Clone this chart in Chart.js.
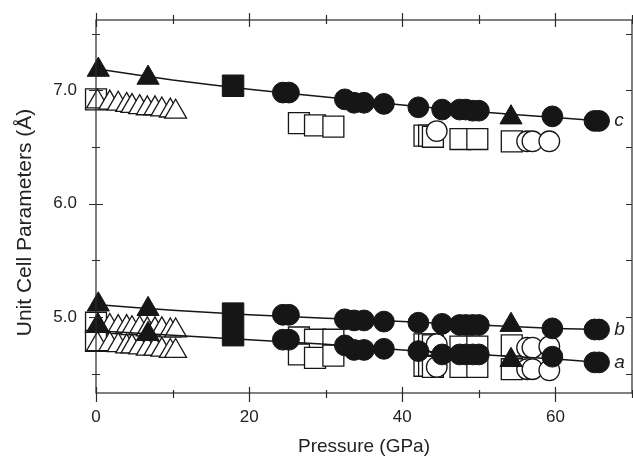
<!DOCTYPE html>
<html>
<head>
<meta charset="utf-8">
<script src="https://cdn.jsdelivr.net/npm/chart.js@4.4.0/dist/chart.umd.min.js"></script>
<style>
  html, body { margin: 0; padding: 0; background: #fff; }
</style>
</head>
<body>
<canvas id="chart" width="633" height="458"></canvas>
<script>
// Unit cell parameters a, b, c vs pressure, several data sets + fit curves.

// filled triangles
const TRI_F_P = [0.3, 6.8, 54.2];
const TRI_F_C = [7.18, 7.11, 6.76];
const TRI_F_B = [5.11, 5.07, 4.93];
const TRI_F_A = [4.92, 4.85, 4.62];

// filled squares
const SQ_F_P = [17.9];
const SQ_F_C = [7.04];
const SQ_F_B = [5.03];
const SQ_F_A = [4.84];

// filled circles
const CIR_F_P = [24.4, 25.2, 32.5, 33.7, 35.0, 37.6, 42.1, 45.2, 47.5, 48.3, 49.2, 50.0, 59.6, 65.1, 65.7];
const CIR_F_C = [6.98, 6.98, 6.92, 6.89, 6.89, 6.88, 6.85, 6.83, 6.83, 6.83, 6.82, 6.82, 6.77, 6.73, 6.73];
const CIR_F_B = [5.02, 5.02, 4.98, 4.97, 4.97, 4.96, 4.95, 4.94, 4.93, 4.93, 4.93, 4.93, 4.90, 4.89, 4.89];
const CIR_F_A = [4.80, 4.80, 4.75, 4.71, 4.71, 4.72, 4.70, 4.67, 4.67, 4.67, 4.67, 4.67, 4.65, 4.60, 4.60];

// open triangles
const TRI_O_P = [0.2, 1.8, 2.9, 4.0, 4.7, 5.7, 6.7, 7.7, 8.6, 9.7, 10.4];
const TRI_O_C = [6.90, 6.89, 6.88, 6.87, 6.86, 6.85, 6.84, 6.84, 6.83, 6.82, 6.81];
const TRI_O_B = [4.92, 4.92, 4.91, 4.91, 4.90, 4.90, 4.89, 4.89, 4.89, 4.88, 4.88];
const TRI_O_A = [4.76, 4.76, 4.75, 4.74, 4.74, 4.73, 4.72, 4.72, 4.71, 4.70, 4.70];

// open squares
const SQ_O_P = [0.0, 26.5, 28.6, 31.0, 42.9, 43.5, 44.0, 47.6, 49.8, 54.3];
const SQ_O_C = [6.92, 6.71, 6.69, 6.68, 6.60, 6.60, 6.59, 6.57, 6.57, 6.55];
const SQ_O_B = [4.95, 4.82, 4.80, 4.80, 4.76, 4.76, 4.75, 4.74, 4.74, 4.75];
const SQ_O_A = [4.79, 4.67, 4.64, 4.66, 4.57, 4.57, 4.56, 4.56, 4.56, 4.54];

// open circles
const CIR_O_P = [44.5, 56.3, 57.0, 59.2];
const CIR_O_C = [6.64, 6.55, 6.55, 6.55];
const CIR_O_B = [4.76, 4.73, 4.73, 4.74];
const CIR_O_A = [4.56, 4.54, 4.54, 4.53];

// fit curves
const FIT_P = [0, 10, 20, 30, 40, 50, 60, 66];
const FIT_C = [7.19, 7.09, 7.01, 6.94, 6.87, 6.81, 6.76, 6.73];
const FIT_B = [5.11, 5.06, 5.02, 4.99, 4.96, 4.93, 4.90, 4.89];
const FIT_A = [4.88, 4.84, 4.80, 4.76, 4.71, 4.67, 4.63, 4.60];

const AXIS_NAMES = ['c', 'b', 'a'];
const Y_TITLE = 'Unit Cell Parameters (Å)';
const FONT = "'Liberation Sans', Arial, Helvetica, sans-serif";
const INK = '#161616';

const pts = (xs, ys) => xs.map((x, i) => ({ x: x, y: ys[i] }));
const merge = (xs, groups) => groups.flatMap(ys => pts(xs, ys));

function markers(label, data, style, radius, filled, order) {
  return {
    type: 'scatter',
    label: label,
    data: data,
    pointStyle: style,
    pointRadius: radius,
    pointHoverRadius: radius,
    backgroundColor: filled ? INK : '#ffffff',
    borderColor: INK,
    borderWidth: filled ? 1 : 1.3,
    clip: false,
    order: order
  };
}

function fit(label, ys) {
  return {
    type: 'line',
    label: label,
    data: pts(FIT_P, ys),
    borderColor: INK,
    borderWidth: 1.5,
    pointRadius: 0,
    tension: 0.2,
    fill: false,
    clip: false,
    order: 3
  };
}

const datasets = [
  markers('open squares', merge(SQ_O_P, [SQ_O_C, SQ_O_B, SQ_O_A]), 'rect', 14.8, false, 6),
  markers('open triangles', merge(TRI_O_P, [TRI_O_C, TRI_O_B, TRI_O_A]), 'triangle', 12.6, false, 5),
  markers('open circles', merge(CIR_O_P, [CIR_O_C, CIR_O_B, CIR_O_A]), 'circle', 10.3, false, 4),
  fit('c', FIT_C),
  fit('b', FIT_B),
  fit('a', FIT_A),
  markers('filled squares', merge(SQ_F_P, [SQ_F_C, SQ_F_B, SQ_F_A]), 'rect', 15.2, true, 2),
  markers('filled triangles', merge(TRI_F_P, [TRI_F_C, TRI_F_B, TRI_F_A]), 'triangle', 12.8, true, 1),
  markers('filled circles', merge(CIR_F_P, [CIR_F_C, CIR_F_B, CIR_F_A]), 'circle', 10.4, true, 0)
];

// frame with ticks crossing the axes, the a/b/c curve labels and the y title
const frame = {
  id: 'frame',
  afterDatasetsDraw(chart) {
    const { ctx, chartArea: a, scales: { x, y } } = chart;
    ctx.save();
    ctx.strokeStyle = '#2a2a2a';
    ctx.lineWidth = 1.2;
    ctx.strokeRect(a.left, a.top, a.right - a.left, a.bottom - a.top);
    ctx.beginPath();
    x.ticks.forEach(t => {
      const px = Math.round(x.getPixelForValue(t.value)) + 0.5;
      const major = t.value % 20 === 0;
      ctx.moveTo(px, a.bottom - (major ? 6 : 3));
      ctx.lineTo(px, a.bottom + (major ? 9 : 5));
      ctx.moveTo(px, a.top - (major ? 7 : 5));
      ctx.lineTo(px, a.top + (major ? 7 : 4));
    });
    y.ticks.forEach(t => {
      const py = Math.round(y.getPixelForValue(t.value)) + 0.5;
      const major = Math.abs(t.value - Math.round(t.value)) < 1e-6;
      ctx.moveTo(a.left - (major ? 7 : 4), py);
      ctx.lineTo(a.left + (major ? 7 : 4), py);
      ctx.moveTo(a.right - 6, py);
      ctx.lineTo(a.right, py);
    });
    ctx.stroke();

    ctx.fillStyle = '#222';
    ctx.font = 'italic 19px ' + FONT;
    ctx.textAlign = 'left';
    ctx.textBaseline = 'middle';
    const last = FIT_P.length - 1;
    [FIT_C, FIT_B, FIT_A].forEach((ys, i) => {
      ctx.fillText(AXIS_NAMES[i], x.getPixelForValue(FIT_P[last]) + 13, y.getPixelForValue(ys[last]));
    });

    // y title sits a little below the plot centre in the original
    ctx.font = '21px ' + FONT;
    ctx.textAlign = 'center';
    ctx.translate(25, (a.top + a.bottom) / 2 + 16);
    ctx.rotate(-Math.PI / 2);
    ctx.fillText(Y_TITLE, 0, 0);
    ctx.restore();
  }
};

new Chart(document.getElementById('chart'), {
  data: { datasets: datasets },
  options: {
    responsive: false,
    animation: false,
    events: [],
    layout: { autoPadding: false, padding: { left: 0, right: 1, top: 20, bottom: 0 } },
    plugins: {
      legend: { display: false },
      tooltip: { enabled: false }
    },
    scales: {
      x: {
        type: 'linear',
        position: 'bottom',
        min: 0,
        max: 70,
        afterFit: s => { s.height = 65; s.paddingLeft = 0; s.paddingRight = 0; },
        grid: { display: false, drawTicks: false },
        border: { display: false },
        ticks: {
          stepSize: 10,
          autoSkip: false,
          maxRotation: 0,
          padding: 14,
          color: '#222',
          font: { family: FONT, size: 17 },
          callback: v => (v % 20 === 0 ? String(v) : '')
        },
        title: {
          display: true,
          text: 'Pressure (GPa)',
          color: '#222',
          font: { family: FONT, size: 19 },
          padding: { top: 0, bottom: 0 }
        }
      },
      y: {
        type: 'linear',
        position: 'left',
        min: 4.33,
        max: 7.62,
        afterFit: s => { s.width = 96; s.paddingTop = 0; s.paddingBottom = 0; },
        grid: { display: false, drawTicks: false },
        border: { display: false },
        ticks: {
          stepSize: 0.5,
          includeBounds: false,
          padding: 19,
          color: '#222',
          font: { family: FONT, size: 17 },
          callback: v => (Math.abs(v - Math.round(v)) < 1e-6 ? v.toFixed(1) : '')
        }
      }
    }
  },
  plugins: [frame]
});
</script>
</body>
</html>
